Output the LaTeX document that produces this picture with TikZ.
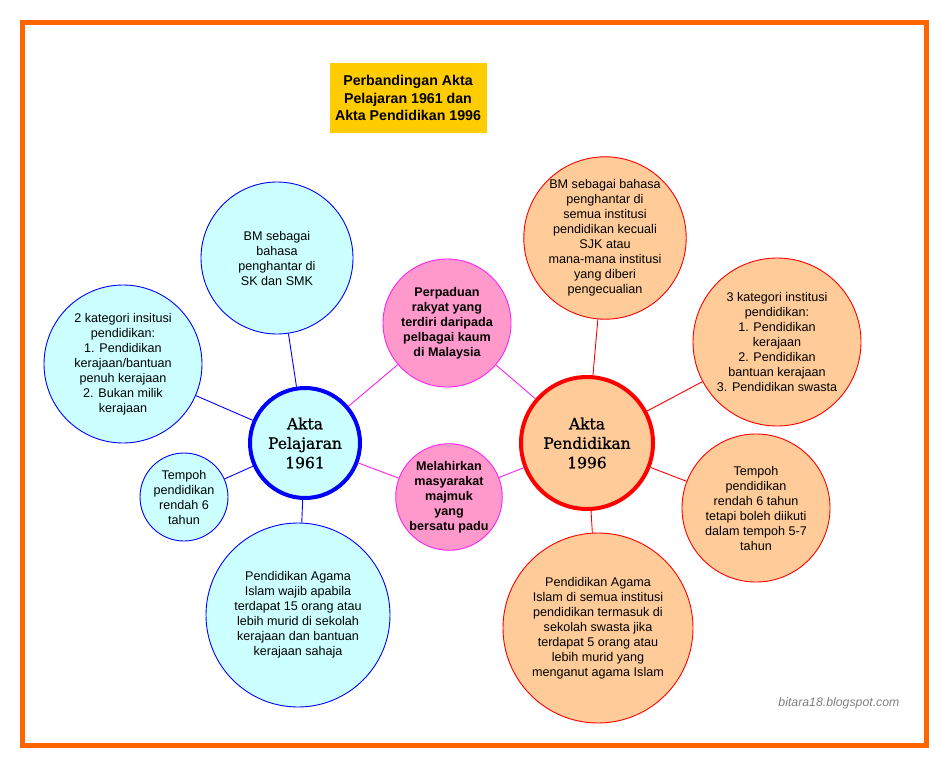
\documentclass[tikz,border=0pt]{standalone}
\usepackage{fontspec}
\setmainfont{Liberation Sans}
\newfontfamily\aktafont[FakeBold=0.9]{DejaVu Serif}
\definecolor{cyanfill}{HTML}{CCFFFF}
\definecolor{peach}{HTML}{FFCC99}
\definecolor{pinkfill}{HTML}{FF99CC}
\definecolor{magline}{HTML}{FF22EE}
\definecolor{framec}{HTML}{FF6600}
\definecolor{titley}{HTML}{FFCC00}
\begin{document}
\begin{tikzpicture}[x=1pt,y=-1pt,
  txt/.style={font=\fontsize{12.6}{15}\selectfont, align=center, text=black},
  bigc/.style={circle, inner sep=0pt, line width=4pt, align=center,
     font=\aktafont\fontsize{15.5}{19.5}\selectfont},
  leftc/.style={circle, draw=blue, fill=cyanfill, line width=0.9pt, inner sep=0pt, txt},
  rightc/.style={circle, draw=red, fill=peach, line width=0.9pt, inner sep=0pt, txt},
  pinkc/.style={circle, draw=magline, fill=pinkfill, line width=0.9pt, inner sep=0pt, txt, font=\bfseries\fontsize{12.6}{15}\selectfont},
  bluel/.style={draw=blue, line width=0.9pt},
  redl/.style={draw=red, line width=0.9pt},
  magl/.style={draw=magline, line width=0.9pt}]
\useasboundingbox (0,0) rectangle (949,768);
\fill[white] (0,0) rectangle (949,768);
\draw[framec, line width=5pt] (22.5,22.5) rectangle (926.5,745.5);

\node[fill=titley, minimum width=157pt, minimum height=70pt, inner sep=0pt,
  align=center, font=\bfseries\fontsize{14.2}{17.5}\selectfont] (title) at (408,98)
  {Perbandingan Akta\\Pelajaran 1961 dan\\Akta Pendidikan 1996};

% central circles
\node[bigc, draw=blue, fill=cyanfill, minimum size=110pt] (A) at (305,443) {Akta\\Pelajaran\\1961};
\node[bigc, draw=red, fill=peach, minimum size=132pt] (B) at (587,443) {Akta\\Pendidikan\\1996};

% pink circles
\node[pinkc, minimum size=128pt] (P1) at (447,323) {Perpaduan\\rakyat yang\\terdiri daripada\\pelbagai kaum\\di Malaysia};
\node[pinkc, minimum size=104pt] (P2) at (449,497) {Melahirkan\\masyarakat\\majmuk\\yang\\bersatu padu};

% left circles
\node[leftc, minimum size=152pt] (L1) at (277,258) {BM sebagai\\bahasa\\penghantar di\\SK dan SMK};
\node[leftc, minimum size=158pt] (L2) at (123,364) {2 kategori insitusi\\pendidikan:\\1. Pendidikan\\kerajaan/bantuan\\penuh kerajaan\\2. Bukan milik\\kerajaan};
\node[leftc, minimum size=88pt] (L3) at (184,497) {Tempoh\\pendidikan\\rendah 6\\tahun};
\node[leftc, minimum size=184pt] (L4) at (298,615) {Pendidikan Agama\\Islam wajib apabila\\terdapat 15 orang atau\\lebih murid di sekolah\\kerajaan dan bantuan\\kerajaan sahaja};

% right circles
\node[rightc, minimum size=156pt] (R1) at (605,238) {BM sebagai bahasa\\penghantar di\\semua institusi\\pendidikan kecuali\\SJK atau\\mana-mana institusi\\yang diberi\\pengecualian};
\node[rightc, minimum size=168pt] (R2) at (777,342) {3 kategori institusi\\pendidikan:\\1. Pendidikan\\kerajaan\\2. Pendidikan\\bantuan kerajaan\\3. Pendidikan swasta};
\node[rightc, minimum size=148pt] (R3) at (756,508) {Tempoh\\pendidikan\\rendah 6 tahun\\tetapi boleh diikuti\\dalam tempoh 5-7\\tahun};
\node[rightc, minimum size=190pt] (R4) at (598,628) {Pendidikan Agama\\Islam di semua institusi\\pendidikan termasuk di\\sekolah swasta jika\\terdapat 5 orang atau\\lebih murid yang\\menganut agama Islam};

% connectors
\draw[bluel] (A) -- (L1);
\draw[bluel] (A) -- (L2);
\draw[bluel] (A) -- (L3);
\draw[bluel] (A) -- (L4);
\draw[magl] (A) -- (P1);
\draw[magl] (A) -- (P2);
\draw[magl] (P1) -- (B);
\draw[magl] (P2) -- (B);
\draw[redl] (B) -- (R1);
\draw[redl] (B) -- (R2);
\draw[redl] (B) -- (R3);
\draw[redl] (B) -- (R4);

\node[font=\itshape\fontsize{12.3}{14}\selectfont, text=gray, anchor=east] (wm) at (903,703) {bitara18.blogspot.com};
\end{tikzpicture}
\end{document}
